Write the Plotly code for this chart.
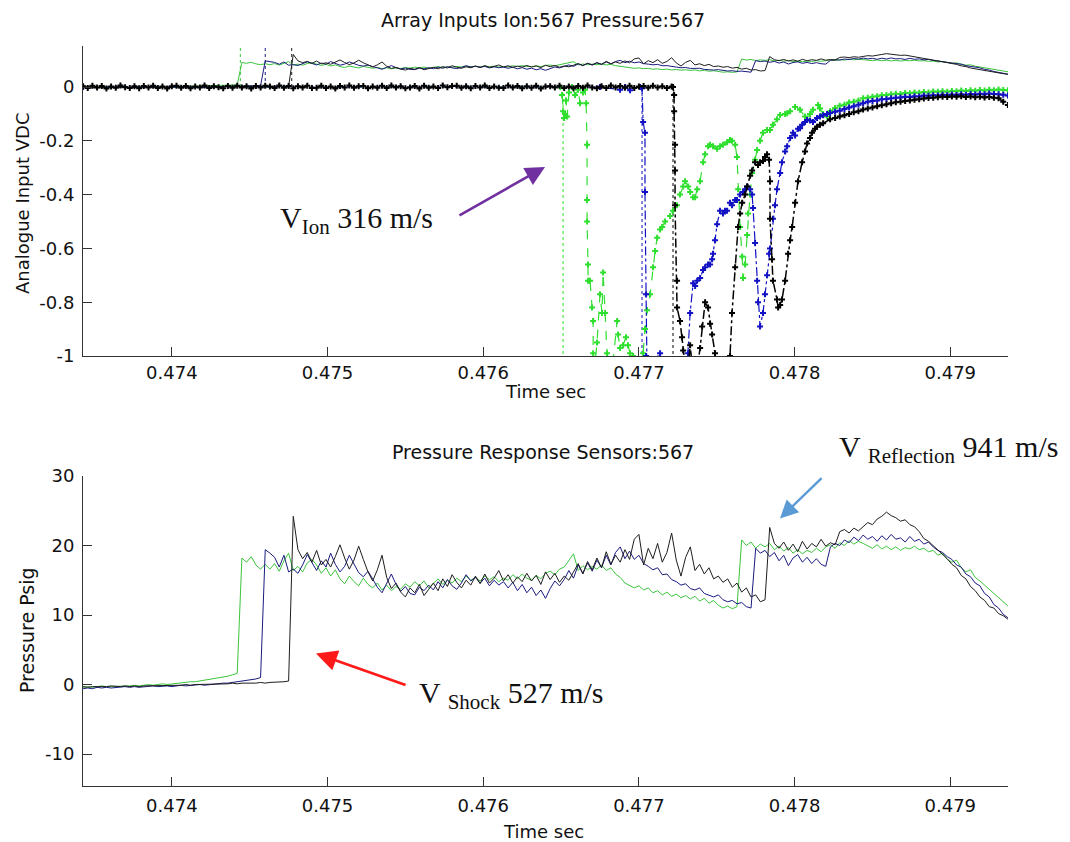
import numpy as np
import plotly.graph_objects as go

# ---------------- data ----------------
T0 = 0.47343        # first sample time (s)
DT = 0.00003        # sample spacing (s)

# Pressure sensors (psig), uniform sampling from T0
P_GREEN = [
    -0.4, -0.3, -0.4, -0.3, -0.2, -0.3, -0.3, -0.2, -0.3, -0.2,
    -0.2, -0.1, -0.2, -0.1, 0.0, -0.1, 0.0, 0.1, 0.0, 0.1,
    0.2, 0.2, 0.3, 0.4, 0.4, 0.5, 0.6, 0.7, 0.8, 0.9,
    1.0, 1.2, 1.4, 1.6, 18.2, 17.6, 18.4, 17.2, 16.6, 17.3,
    16.6, 17.4, 16.3, 17.8, 18.9, 16.4, 17.0, 16.2, 17.5, 18.0,
    17.2, 16.0, 16.8, 15.6, 16.5, 15.2, 14.5, 15.6, 14.8, 14.2,
    15.3, 14.4, 13.9, 14.6, 13.6, 14.3, 13.5, 14.1, 13.7, 14.5,
    14.0, 14.8, 14.2, 14.9, 13.9, 14.6, 15.2, 14.4, 15.0, 14.6,
    15.3, 14.8, 15.6, 15.0, 15.4, 14.9, 15.6, 15.1, 15.5, 14.8,
    15.3, 15.0, 15.8, 15.2, 15.9, 15.3, 15.0, 15.7, 15.2, 16.0,
    16.3, 15.8, 16.6, 16.9, 17.8, 18.8, 16.4, 17.1, 16.5, 17.0,
    16.6, 17.2, 16.4, 16.8, 15.9, 15.4, 14.6, 14.3, 13.9, 14.2,
    13.6, 13.9, 13.2, 13.5, 12.9, 13.3, 12.7, 13.0, 12.5, 12.8,
    12.3, 12.7, 12.0, 12.4, 11.7, 12.1, 11.4, 11.0, 11.3, 10.9,
    11.2, 20.8, 20.0, 20.5, 19.6, 20.2, 19.8, 20.3, 19.4, 19.9,
    19.2, 19.7, 18.9, 19.4, 18.8, 19.3, 19.0, 19.6, 19.1, 19.8,
    20.1, 19.6, 20.4, 20.0, 20.7, 20.2, 20.6, 20.3, 20.0, 19.6,
    20.1, 19.5, 19.9, 19.4, 19.8, 19.3, 19.7, 19.5, 19.9, 19.4,
    19.6, 19.1, 19.3, 18.6, 18.9, 18.0, 17.6, 17.9, 16.8, 16.2,
    16.5, 15.4, 14.9, 14.3, 13.6, 13.1, 12.4, 11.8, 11.3,
]
P_BLUE = [
    -0.6, -0.5, -0.6, -0.4, -0.5, -0.4, -0.5, -0.4, -0.4, -0.3,
    -0.4, -0.3, -0.4, -0.3, -0.3, -0.2, -0.3, -0.2, -0.2, -0.3,
    -0.2, -0.1, -0.2, -0.1, -0.1, 0.0, -0.1, 0.0, 0.1, 0.1,
    0.2, 0.2, 0.3, 0.4, 0.4, 0.5, 0.6, 0.8, 1.0, 19.4,
    18.9, 18.3, 16.9, 18.6, 16.2, 16.6, 16.0, 17.2, 18.7, 17.5,
    16.4, 17.8, 16.9, 18.9, 17.3, 16.2, 17.0, 18.6, 17.4, 16.1,
    15.5, 16.3, 15.2, 14.0, 13.2, 14.6, 15.9, 14.4, 13.4, 14.1,
    13.1, 12.9, 14.0, 13.5, 14.3, 13.6, 14.8, 13.9, 15.1, 14.2,
    13.7, 14.6, 15.8, 14.9, 15.4, 14.6, 15.3, 14.2, 15.0, 14.3,
    14.8, 13.9, 14.7, 13.5, 14.4, 13.2, 14.0, 12.8, 13.6, 12.4,
    13.8, 14.9, 14.2, 15.1, 16.4, 15.3, 17.2, 16.0, 17.5, 16.3,
    17.9, 16.8, 18.6, 17.2, 19.0, 19.8, 18.1, 19.2, 18.0, 18.6,
    17.4, 17.0, 16.5, 16.8, 15.8, 15.9, 15.1, 14.8, 14.3, 14.5,
    13.8, 13.6, 13.9, 13.1, 12.8, 12.6, 12.9, 12.2, 11.9, 12.1,
    11.6, 11.8, 11.2, 11.0, 19.6, 18.9, 19.3, 18.4, 19.0, 17.8,
    18.6, 17.1, 18.2, 18.7, 17.6, 18.3, 17.4, 18.1, 17.3, 17.0,
    19.8, 20.3, 20.0, 20.8, 20.4, 21.2, 20.7, 21.5, 20.9, 21.3,
    20.6, 21.4, 20.8, 21.6, 20.9, 21.1, 20.5, 21.3, 20.6, 20.9,
    20.2, 20.5, 19.8, 19.3, 19.0, 18.4, 18.0, 17.2, 16.9, 15.9,
    15.5, 14.6, 14.2, 13.1, 12.6, 11.5, 11.0, 10.1, 9.6,
]
P_BLACK = [
    -0.3, -0.4, -0.3, -0.3, -0.4, -0.3, -0.2, -0.3, -0.3, -0.2,
    -0.3, -0.2, -0.3, -0.2, -0.2, -0.1, -0.2, -0.2, -0.1, -0.2,
    -0.1, -0.1, 0.0, -0.1, 0.0, 0.0, 0.1, 0.0, 0.1, 0.1,
    0.0, 0.1, 0.2, 0.1, 0.2, 0.2, 0.1, 0.2, 0.3, 0.2,
    0.3, 0.3, 0.4, 0.4, 0.5, 24.2, 19.4, 18.1, 19.0, 17.6,
    19.3, 17.2, 18.0, 16.9, 18.4, 20.1, 18.2, 16.6, 17.9, 19.9,
    18.0, 16.2, 14.9, 16.5, 18.6, 15.4, 13.8, 14.6, 13.3, 12.6,
    13.9, 13.2, 14.4, 12.8, 13.7, 14.6, 13.5, 15.2, 14.1, 15.8,
    14.7, 13.9, 15.0, 14.3, 15.6, 14.5, 15.9, 14.6, 15.3, 16.4,
    14.9, 15.8, 14.6, 15.5, 14.8, 16.0, 14.9, 15.7, 14.4, 16.2,
    15.1, 16.0, 14.7, 15.6, 15.0, 16.3, 17.4, 15.9, 17.7, 16.5,
    18.2, 16.8, 19.1, 17.3, 18.6, 17.6, 19.4, 18.0, 20.9, 21.6,
    17.2, 19.6, 18.1, 20.3, 17.6, 19.0, 21.8, 17.9, 15.6, 18.3,
    19.8, 16.4, 17.3, 15.9, 16.8, 15.2, 15.6, 14.7, 15.2, 14.0,
    14.6, 13.3, 13.9, 12.6, 12.9, 11.9, 12.2, 22.6, 20.3, 19.6,
    20.5, 19.3, 20.2, 19.1, 20.6, 19.5, 20.3, 19.8, 20.9, 19.9,
    20.4, 20.1, 22.0, 22.3, 21.8, 22.5, 22.1, 22.7, 23.3, 23.0,
    23.8, 24.2, 24.8, 24.3, 24.0, 23.5, 23.7, 23.0, 22.7, 22.0,
    21.0, 20.6, 20.0, 19.4, 18.8, 18.1, 17.3, 16.8, 15.7, 15.2,
    14.1, 13.5, 12.6, 12.1, 11.2, 11.0, 10.2, 9.9, 9.4,
]
PSI_PER_VDC = 200.0   # pressure overlay on the ion panel: psig / 200

# Ion probes (VDC)
ION_BLACK_FLAT = [  # uniform sampling from T0, before arrival
    0.003, -0.004, 0.005, -0.002, 0.004, -0.006, 0.002, -0.003, 0.006, -0.001,
    -0.004, 0.003, -0.005, 0.004, -0.002, 0.005, -0.004, 0.002, -0.006, 0.003,
    0.005, -0.003, 0.004, -0.005, 0.002, -0.002, 0.006, -0.004, 0.003, -0.001,
    -0.005, 0.004, -0.003, 0.005, -0.002, 0.003, -0.006, 0.004, -0.002, 0.005,
    0.002, -0.004, 0.006, -0.003, 0.004, -0.005, 0.003, -0.002, 0.005, -0.004,
    -0.003, 0.005, -0.004, 0.002, -0.006, 0.004, -0.002, 0.006, -0.003, 0.003,
    0.004, -0.005, 0.002, -0.003, 0.005, -0.004, 0.006, -0.002, 0.003, -0.005,
    -0.002, 0.004, -0.006, 0.005, -0.003, 0.002, -0.004, 0.006, -0.001, 0.004,
    0.005, -0.003, 0.003, -0.005, 0.004, -0.002, 0.006, -0.004, 0.002, -0.003,
    -0.004, 0.006, -0.002, 0.004, -0.005, 0.003, -0.003, 0.005, -0.006, 0.002,
    0.003, -0.002, 0.005, -0.004, 0.002, -0.005, 0.004, -0.003, 0.006, -0.002,
    -0.005, 0.003, -0.004, 0.006, -0.002, 0.004, -0.003, 0.005, -0.004, 0.002,
    0.004, -0.003, 0.005, -0.002, 0.003, -0.004, 0.002,
]
ION_GREEN_T = [
    0.473430, 0.476494, 0.476506, 0.476513, 0.476519, 0.476526, 0.476532, 0.476539, 0.476551, 0.476571,
    0.476590, 0.476609, 0.476622, 0.476641, 0.476654, 0.476661, 0.476667, 0.476667, 0.476667, 0.476673,
    0.476673, 0.476686, 0.476699, 0.476706, 0.476706, 0.476718, 0.476731, 0.476750, 0.476763, 0.476770,
    0.476783, 0.476795, 0.476815, 0.476834, 0.476860, 0.476866, 0.476879, 0.476898, 0.476917, 0.476930,
    0.476943, 0.476962, 0.476982, 0.477007, 0.477027, 0.477039, 0.477052, 0.477072, 0.477091, 0.477104,
    0.477117, 0.477136, 0.477149, 0.477168, 0.477200, 0.477219, 0.477245, 0.477264, 0.477284, 0.477296,
    0.477316, 0.477329, 0.477348, 0.477361, 0.477374, 0.477393, 0.477412, 0.477425, 0.477444, 0.477457,
    0.477476, 0.477502, 0.477521, 0.477540, 0.477566, 0.477585, 0.477598, 0.477618, 0.477630, 0.477637,
    0.477650, 0.477663, 0.477669, 0.477682, 0.477695, 0.477701, 0.477714, 0.477727, 0.477746, 0.477759,
    0.477778, 0.477797, 0.477823, 0.477842, 0.477861, 0.477887, 0.477907, 0.477939, 0.477952, 0.477971,
    0.478003, 0.478035, 0.478067, 0.478080, 0.478099, 0.478118, 0.478151, 0.478163, 0.478183, 0.478208,
    0.478228,
]
ION_GREEN_V = [
    0.0, 0.0, -0.03, -0.09, -0.115, -0.10, -0.05, -0.11, -0.02, 0.0,
    -0.03, -0.01, -0.06, -0.02, -0.01, -0.06, -0.215, -0.42, -0.50, -0.66,
    -0.72, -0.72, -0.82, -0.87, -0.99, -1.03, -0.95, -0.77, -0.84, -0.69,
    -0.84, -0.99, -1.03, -1.02, -0.87, -0.92, -0.97, -0.96, -0.93, -0.96,
    -0.99, -1.0, -1.03, -1.02, -0.99, -0.90, -0.83, -0.77, -0.67, -0.61,
    -0.56, -0.53, -0.52, -0.50, -0.48, -0.46, -0.44, -0.40, -0.37, -0.35,
    -0.37, -0.39, -0.41, -0.41, -0.38, -0.35, -0.28, -0.25, -0.22, -0.215,
    -0.22, -0.23, -0.22, -0.215, -0.205, -0.197, -0.20, -0.215, -0.26, -0.38,
    -0.52, -0.63, -0.71, -0.66, -0.55, -0.47, -0.40, -0.32, -0.27, -0.234,
    -0.20, -0.17, -0.16, -0.16, -0.14, -0.12, -0.104, -0.10, -0.098, -0.09,
    -0.074, -0.085, -0.11, -0.12, -0.10, -0.085, -0.067, -0.08, -0.10, -0.11,
    -0.09,
]
ION_BLUE_T = [
    0.473430, 0.476750, 0.476879, 0.476911, 0.476943, 0.477007, 0.477020, 0.477027, 0.477039, 0.477039,
    0.477046, 0.477046, 0.477052, 0.477136, 0.477149, 0.477309, 0.477316, 0.477329, 0.477348, 0.477361,
    0.477374, 0.477393, 0.477412, 0.477425, 0.477444, 0.477457, 0.477470, 0.477476, 0.477489, 0.477502,
    0.477521, 0.477540, 0.477553, 0.477566, 0.477585, 0.477598, 0.477618, 0.477630, 0.477650, 0.477669,
    0.477682, 0.477695, 0.477714, 0.477727, 0.477733, 0.477746, 0.477759, 0.477765, 0.477778, 0.477797,
    0.477810, 0.477823, 0.477836, 0.477842, 0.477861, 0.477874, 0.477887, 0.477907, 0.477919, 0.477939,
    0.477952, 0.477971, 0.477990, 0.478003, 0.478022, 0.478035, 0.478048, 0.478067, 0.478080, 0.478099,
    0.478118, 0.478144, 0.478163, 0.478183, 0.478208, 0.478228,
]
ION_BLUE_V = [
    0.0, 0.0, -0.01, 0.0, -0.012, 0.0, -0.005, -0.13, -0.17, -0.39,
    -0.77, -1.0, -1.05, -0.99, -1.05, -1.05, -0.99, -0.84, -0.73, -0.74,
    -0.72, -0.71, -0.68, -0.67, -0.66, -0.66, -0.64, -0.62, -0.57, -0.51,
    -0.46, -0.47, -0.46, -0.46, -0.43, -0.44, -0.42, -0.42, -0.40, -0.39,
    -0.38, -0.37, -0.38, -0.40, -0.45, -0.58, -0.72, -0.80, -0.89, -0.84,
    -0.77, -0.70, -0.62, -0.60, -0.49, -0.44, -0.38, -0.32, -0.28, -0.24,
    -0.22, -0.19, -0.17, -0.18, -0.155, -0.153, -0.14, -0.13, -0.123, -0.125,
    -0.13, -0.115, -0.11, -0.105, -0.10, -0.097,
]
ION_BLACK_T = [
    0.477219, 0.477226, 0.477226, 0.477232, 0.477232, 0.477232, 0.477245, 0.477245, 0.477264, 0.477277,
    0.477284, 0.477296, 0.477316, 0.477329, 0.477341, 0.477374, 0.477393, 0.477406, 0.477425, 0.477444,
    0.477457, 0.477470, 0.477489, 0.477502, 0.477566, 0.477585, 0.477598, 0.477618, 0.477637, 0.477650,
    0.477663, 0.477682, 0.477695, 0.477714, 0.477727, 0.477746, 0.477765, 0.477778, 0.477797, 0.477810,
    0.477823, 0.477836, 0.477842, 0.477842, 0.477855, 0.477861, 0.477887, 0.477894, 0.477907, 0.477919,
    0.477939, 0.477958, 0.477971, 0.477984, 0.478003, 0.478022, 0.478048, 0.478067, 0.478080, 0.478099,
    0.478112, 0.478131, 0.478144, 0.478163, 0.478183, 0.478228,
]
ION_BLACK_V = [
    0.0, -0.03, -0.09, -0.215, -0.31, -0.44, -0.72, -0.82, -0.87, -0.93,
    -0.98, -1.03, -1.05, -0.96, -1.03, -1.05, -0.97, -0.89, -0.80, -0.82,
    -0.88, -0.92, -0.99, -1.03, -1.05, -1.0, -0.84, -0.67, -0.52, -0.47,
    -0.43, -0.40, -0.37, -0.33, -0.31, -0.28, -0.29, -0.28, -0.275, -0.26,
    -0.25, -0.27, -0.35, -0.49, -0.64, -0.72, -0.79, -0.82, -0.81, -0.79,
    -0.72, -0.62, -0.57, -0.52, -0.43, -0.35, -0.28, -0.24, -0.21, -0.19,
    -0.17, -0.155, -0.148, -0.14, -0.135, -0.12,
]
TAIL_K0 = 161   # ion tails continue on the uniform sampling grid from this sample
ION_GREEN_TAIL = [
    -0.078, -0.070, -0.066, -0.058, -0.055, -0.050, -0.042, -0.040, -0.036, -0.034,
    -0.031, -0.030, -0.027, -0.025, -0.026, -0.022, -0.023, -0.020, -0.021, -0.019,
    -0.020, -0.017, -0.018, -0.016, -0.018, -0.015, -0.016, -0.013, -0.015, -0.012,
    -0.014, -0.011, -0.013, -0.010, -0.012, -0.009, -0.011, -0.012,
]
ION_BLUE_TAIL = [
    -0.092, -0.088, -0.082, -0.076, -0.072, -0.066, -0.060, -0.055, -0.052, -0.050,
    -0.046, -0.045, -0.042, -0.040, -0.039, -0.036, -0.037, -0.034, -0.035, -0.032,
    -0.033, -0.031, -0.032, -0.029, -0.031, -0.028, -0.030, -0.027, -0.029, -0.026,
    -0.028, -0.025, -0.027, -0.024, -0.026, -0.027, -0.029, -0.032,
]
ION_BLACK_TAIL = [
    -0.115, -0.110, -0.105, -0.100, -0.094, -0.090, -0.084, -0.080, -0.076, -0.072,
    -0.068, -0.064, -0.060, -0.057, -0.055, -0.052, -0.050, -0.047, -0.046, -0.043,
    -0.041, -0.040, -0.038, -0.036, -0.037, -0.035, -0.036, -0.034, -0.037, -0.035,
    -0.038, -0.036, -0.039, -0.037, -0.040, -0.042, -0.055, -0.067,
]

# Arrival markers (s)
ARRIVAL_PRESSURE = [0.47444, 0.47460, 0.47477]      # green, blue, black
ARRIVAL_ION = [0.476513, 0.477020, 0.477219]         # green, blue, black

X_TICKS = [0.474, 0.475, 0.476, 0.477, 0.478, 0.479]
X_TICK_TEXT = ["0.474", "0.475", "0.476", "0.477", "0.478", "0.479"]
Y1_TICKS = [-1, -0.8, -0.6, -0.4, -0.2, 0]
Y1_TICK_TEXT = ["-1", "-0.8", "-0.6", "-0.4", "-0.2", "0"]
Y2_TICKS = [-10, 0, 10, 20, 30]
Y2_TICK_TEXT = ["-10", "0", "10", "20", "30"]

X_RANGE = [0.4734295, 0.4793705]
Y1_RANGE = [-1.0, 0.1524]
Y2_RANGE = [-14.6, 30.0]

# ---------------- styling ----------------
W, H = 1070, 842
OFF = 8          # page body margin offset
C_GREEN_P = "#3cc43c"
C_BLUE_P = "#1a1a80"
C_BLACK_P = "#1e1e1e"
C_GREEN_I = "#2fdf2f"
C_BLUE_I = "#1212c4"
C_BLACK_I = "#000000"
SANS = "DejaVu Sans"
SERIF = "Liberation Serif, Times New Roman, serif"


def px_x(px):
    return (px - OFF) / W


def px_y(py):
    return 1 - (py - OFF) / H


def grid(n, k0=0):
    return T0 + DT * (np.arange(n) + k0)


fig = go.Figure()

# --- top panel: scaled pressure overlay
for vals, col in [(P_GREEN, C_GREEN_P), (P_BLUE, C_BLUE_P), (P_BLACK, C_BLACK_P)]:
    fig.add_trace(go.Scatter(x=grid(len(vals)), y=np.array(vals) / PSI_PER_VDC,
                             mode="lines", line=dict(color=col, width=1),
                             xaxis="x", yaxis="y", showlegend=False, hoverinfo="skip"))

# arrival dotted lines
for t, col in zip(ARRIVAL_PRESSURE, [C_GREEN_P, C_BLUE_P, C_BLACK_P]):
    fig.add_trace(go.Scatter(x=[t, t], y=[0, Y1_RANGE[1]], mode="lines",
                             line=dict(color=col, width=1, dash="dot"),
                             xaxis="x", yaxis="y", showlegend=False, hoverinfo="skip"))
for t, col in zip(ARRIVAL_ION, [C_GREEN_I, C_BLUE_I, C_BLACK_I]):
    fig.add_trace(go.Scatter(x=[t, t], y=[0, Y1_RANGE[0]], mode="lines",
                             line=dict(color=col, width=1, dash="dot"),
                             xaxis="x", yaxis="y", showlegend=False, hoverinfo="skip"))

# ion traces
ion_series = [
    (list(ION_GREEN_T), list(ION_GREEN_V), ION_GREEN_TAIL, C_GREEN_I, "dash"),
    (list(ION_BLUE_T), list(ION_BLUE_V), ION_BLUE_TAIL, C_BLUE_I, "dashdot"),
]
for tt, vv, tail, col, dash in ion_series:
    x = np.concatenate([tt, grid(len(tail), TAIL_K0)])
    y = np.concatenate([vv, tail])
    fig.add_trace(go.Scatter(x=x, y=y, mode="lines+markers",
                             line=dict(color=col, width=1.2, dash=dash),
                             marker=dict(symbol="cross", size=5, color=col),
                             xaxis="x", yaxis="y", showlegend=False, hoverinfo="skip"))

xb = np.concatenate([grid(len(ION_BLACK_FLAT)), ION_BLACK_T, grid(len(ION_BLACK_TAIL), TAIL_K0)])
yb = np.concatenate([ION_BLACK_FLAT, ION_BLACK_V, ION_BLACK_TAIL])
fig.add_trace(go.Scatter(x=xb, y=yb, mode="lines+markers",
                         line=dict(color=C_BLACK_I, width=1.5, dash="dashdot"),
                         marker=dict(symbol="cross", size=5, color=C_BLACK_I),
                         xaxis="x", yaxis="y", showlegend=False, hoverinfo="skip"))

# --- bottom panel: pressure
for vals, col in [(P_GREEN, C_GREEN_P), (P_BLUE, C_BLUE_P), (P_BLACK, C_BLACK_P)]:
    fig.add_trace(go.Scatter(x=grid(len(vals)), y=vals, mode="lines",
                             line=dict(color=col, width=1),
                             xaxis="x2", yaxis="y2", showlegend=False, hoverinfo="skip"))

axis_common = dict(showline=True, linecolor="#333", linewidth=1, ticks="inside", ticklen=9,
                   tickcolor="#333", showgrid=False, zeroline=False, automargin=False,
                   tickfont=dict(family=SANS, size=18, color="#111"))

XD = [px_x(83), px_x(1008)]
fig.update_layout(
    width=W, height=H, autosize=False, margin=dict(l=0, r=0, t=0, b=0, pad=0),
    paper_bgcolor="white", plot_bgcolor="white", showlegend=False,
    xaxis=dict(domain=XD, range=X_RANGE, anchor="y", tickvals=X_TICKS, ticktext=X_TICK_TEXT,
               ticklabelstandoff=0, **axis_common),
    yaxis=dict(domain=[px_y(356), px_y(46)], range=Y1_RANGE, anchor="x",
               tickvals=Y1_TICKS, ticktext=Y1_TICK_TEXT, ticklabelstandoff=4, **axis_common),
    xaxis2=dict(domain=XD, range=X_RANGE, anchor="y2", tickvals=X_TICKS, ticktext=X_TICK_TEXT,
                ticklabelstandoff=3, **axis_common),
    yaxis2=dict(domain=[px_y(786), px_y(476)], range=Y2_RANGE, anchor="x2",
                tickvals=Y2_TICKS, ticktext=Y2_TICK_TEXT, ticklabelstandoff=4, **axis_common),
)

# --- text annotations (titles / axis labels)
def ptxt(text, px, py, size=19, angle=0, family=SANS):
    fig.add_annotation(text=text, x=px_x(px), y=px_y(py), xref="paper", yref="paper",
                       xanchor="center", yanchor="middle", showarrow=False, textangle=angle,
                       font=dict(family=family, size=size, color="#111"))

ptxt("Array Inputs Ion:567 Pressure:567", 543, 20)
ptxt("Pressure Response Sensors:567", 543, 452)
ptxt("Time sec", 545, 392, 18)
ptxt("Time sec", 543, 831, 18)
ptxt("Analogue Input VDC", 22, 204, 18, -90)
ptxt("Pressure Psig", 27, 630, 19, -90)

# --- velocity callouts with arrows
def arrow(xh, yh, xt, yt, col, xr, yr, width=2.6):
    fig.add_annotation(text="", x=xh, y=yh, ax=xt, ay=yt, xref=xr, yref=yr, axref=xr, ayref=yr,
                       showarrow=True, arrowhead=2, arrowsize=1.5, arrowwidth=width,
                       arrowcolor=col, standoff=0)

arrow(0.476397, -0.297, 0.475838, -0.480, "#7030a0", "x", "y")
arrow(0.474926, 4.47, 0.475511, -0.14, "#ff1a1a", "x2", "y2", 2.8)
arrow(0.477906, 23.9, 0.478183, 29.9, "#5b9bd5", "x2", "y2", 2.4)

ptxt("V<sub>Ion</sub> 316 m/s", 356, 220, 30, 0, SERIF)
ptxt("V <sub>Shock</sub> 527 m/s", 511, 695, 30, 0, SERIF)
ptxt("V <sub>Reflection</sub> 941 m/s", 948, 449, 30, 0, SERIF)

fig.write_html("out.html")
